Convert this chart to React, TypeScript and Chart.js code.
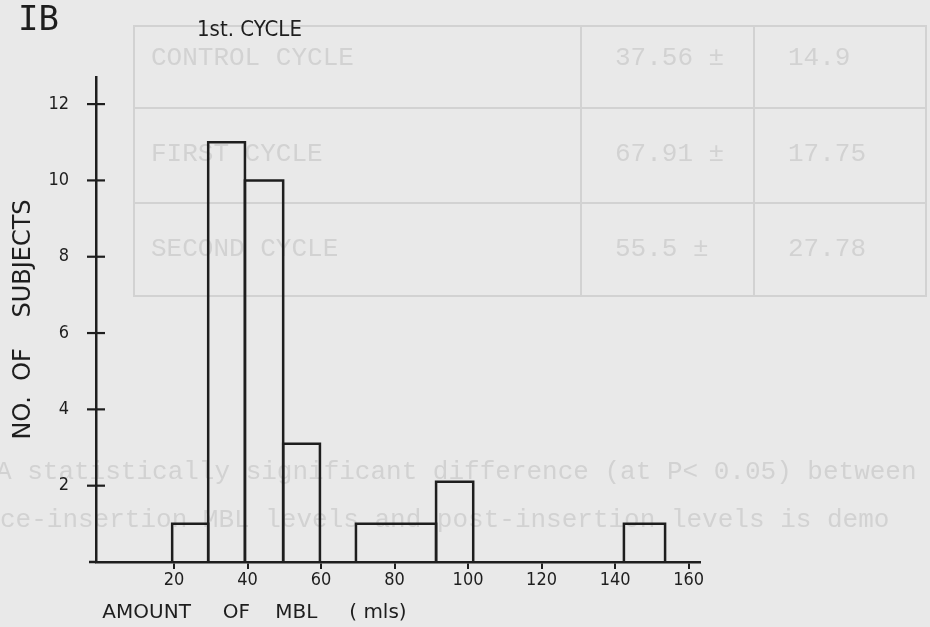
import React, { useEffect, useRef } from "react";
import { Chart, registerables } from "chart.js";

Chart.register(...registerables);

// ---- data ----
const binStart = [19.5, 29.3, 39.3, 49.7, 69.5, 91.3, 142.4];
const binEnd = [29.3, 39.3, 49.7, 59.7, 91.3, 101.4, 153.6];
const subjectCounts = [1, 11, 10, 3.1, 1, 2.1, 1];
const xTickValues = [20, 40, 60, 80, 100, 120, 140, 160];
const yTickValues = [2, 4, 6, 8, 10, 12];

const panelLabel = "IB";
const panelTitle = "1st. CYCLE";
const xTitle = " AMOUNT     OF    MBL     ( mls)";
const yTitle = "NO.  OF    SUBJECTS";

// faint show-through from the reverse page
const tableRows = ["CONTROL CYCLE", "FIRST CYCLE", "SECOND CYCLE"];
const tableMeans = ["37.56 ±", "67.91 ±", "55.5 ±"];
const tableSDs = ["14.9", "17.75", "27.78"];
const bodyLines = [
  "A statistically significant difference (at P< 0.05) between",
  "ce-insertion MBL levels and post-insertion levels is demo",
];

const INK = "#1e1e1e";
const PAPER = "#e9e9e9";
const FAINT = "#d2d2d2";
const FONT = "'DejaVu Sans', sans-serif";
const FONT_C = "'DejaVu Sans Condensed', 'DejaVu Sans', sans-serif";
const MONO = "'Liberation Mono', 'DejaVu Sans Mono', monospace";

const tickStubs = {
  id: "tickStubs",
  afterDraw(chart: any) {
    const ys = chart.scales.y;
    const xs = chart.scales.x;
    const ctx = chart.ctx;
    ctx.save();
    ctx.strokeStyle = INK;
    ctx.lineWidth = 2.2;
    for (const t of ys.ticks) {
      const py = ys.getPixelForValue(t.value);
      ctx.beginPath();
      ctx.moveTo(ys.right - 9, py);
      ctx.lineTo(ys.right + 9, py);
      ctx.stroke();
    }
    ctx.lineWidth = 2.5;
    const by = xs.top;
    ctx.beginPath();
    ctx.moveTo(xs.left - 7, by);
    ctx.lineTo(xs.left, by);
    ctx.stroke();
    ctx.restore();
  },
};

export default function App() {
  const ref = useRef<HTMLCanvasElement>(null);

  useEffect(() => {
    if (!ref.current) return;
    const datasets = binStart.map((s, i) => ({
      label: `${s}-${binEnd[i]}`,
      data: [
        { x: s, y: 0 },
        { x: s, y: subjectCounts[i] },
        { x: binEnd[i], y: subjectCounts[i] },
        { x: binEnd[i], y: 0 },
      ],
      showLine: true,
      borderColor: INK,
      backgroundColor: "transparent",
      borderWidth: 2.5,
      pointRadius: 0,
      pointHoverRadius: 0,
      fill: false,
      tension: 0,
      clip: false as any,
      borderJoinStyle: "miter" as const,
    }));

    const chart = new Chart(ref.current, {
      type: "scatter",
      data: { datasets },
      plugins: [tickStubs],
      options: {
        animation: false,
        responsive: false,
        devicePixelRatio: 1,
        events: [],
        layout: { padding: { top: 77, right: 230, left: 0, bottom: 0 } },
        plugins: {
          legend: { display: false },
          tooltip: { enabled: false },
          title: { display: false },
        },
        scales: {
          x: {
            type: "linear",
            min: -1.22,
            max: 163.1,
            afterBuildTicks: (s: any) => {
              s.ticks = xTickValues.map((v) => ({ value: v }));
            },
            afterFit: (s: any) => {
              s.height = 65;
            },
            grid: {
              display: true,
              drawOnChartArea: false,
              drawTicks: true,
              tickLength: 7,
              color: INK,
              lineWidth: 2,
            },
            border: { display: true, color: INK, width: 2.5 },
            ticks: {
              color: INK,
              font: { family: FONT_C, size: 18 },
              padding: 1,
              maxRotation: 0,
              autoSkip: false,
            },
            title: {
              display: true,
              text: xTitle,
              align: "start",
              color: INK,
              font: { family: FONT, size: 20 },
              padding: { top: 0, bottom: 2 },
            },
          },
          y: {
            type: "linear",
            min: 0,
            max: 12.71,
            afterBuildTicks: (s: any) => {
              s.ticks = yTickValues.map((v) => ({ value: v }));
            },
            afterFit: (s: any) => {
              s.width = 96;
            },
            grid: { display: true, drawOnChartArea: false, drawTicks: false },
            border: { display: true, color: INK, width: 2.5 },
            ticks: {
              color: INK,
              font: { family: FONT_C, size: 18 },
              padding: 27,
            },
            title: {
              display: true,
              text: yTitle,
              color: INK,
              font: { family: FONT, size: 24 },
              padding: { top: 9, bottom: 0 },
            },
          },
        },
      },
    });
    return () => chart.destroy();
  }, []);

  const hLine = (top: number) => (
    <div
      key={"h" + top}
      style={{ position: "absolute", left: 133, width: 792, top, height: 2, background: FAINT }}
    />
  );
  const vLine = (left: number) => (
    <div
      key={"v" + left}
      style={{ position: "absolute", top: 25, height: 272, left, width: 2, background: FAINT }}
    />
  );
  const rowCenters = [58, 154, 249];
  const faintText = (t: string, key: string, left: number, center: number) => (
    <div
      key={key}
      style={{
        position: "absolute",
        left,
        top: center - 15,
        font: `26px ${MONO}`,
        lineHeight: "30px",
        color: FAINT,
        whiteSpace: "pre",
      }}
    >
      {t}
    </div>
  );

  return (
    <div
      style={{
        position: "absolute",
        left: 0,
        top: 0,
        width: 930,
        height: 627,
        background: PAPER,
        overflow: "hidden",
      }}
    >
      <div style={{ position: "absolute", inset: 0, filter: "blur(0.6px)" }}>
        {[25, 107, 202, 295].map(hLine)}
        {[133, 580, 753, 925].map(vLine)}
        {tableRows.map((t, i) => faintText(t, "r" + i, 151, rowCenters[i]))}
        {tableMeans.map((t, i) => faintText(t, "m" + i, 615, rowCenters[i]))}
        {tableSDs.map((t, i) => faintText(t, "s" + i, 788, rowCenters[i]))}
        {bodyLines.map((t, i) => faintText(t, "b" + i, i === 0 ? -4 : 0, i === 0 ? 472 : 520))}
      </div>
      <canvas
        ref={ref}
        width={930}
        height={627}
        style={{ position: "absolute", left: 0, top: 0, width: 930, height: 627 }}
      />
      <div
        style={{
          position: "absolute",
          left: 18,
          top: 1,
          font: `34px 'DejaVu Sans Mono', monospace`,
          lineHeight: "34px",
          color: INK,
        }}
      >
        {panelLabel}
      </div>
      <div
        style={{
          position: "absolute",
          left: 197,
          top: 18,
          font: `22px ${FONT_C}`,
          lineHeight: "22px",
          color: INK,
          whiteSpace: "pre",
        }}
      >
        {panelTitle}
      </div>
    </div>
  );
}
